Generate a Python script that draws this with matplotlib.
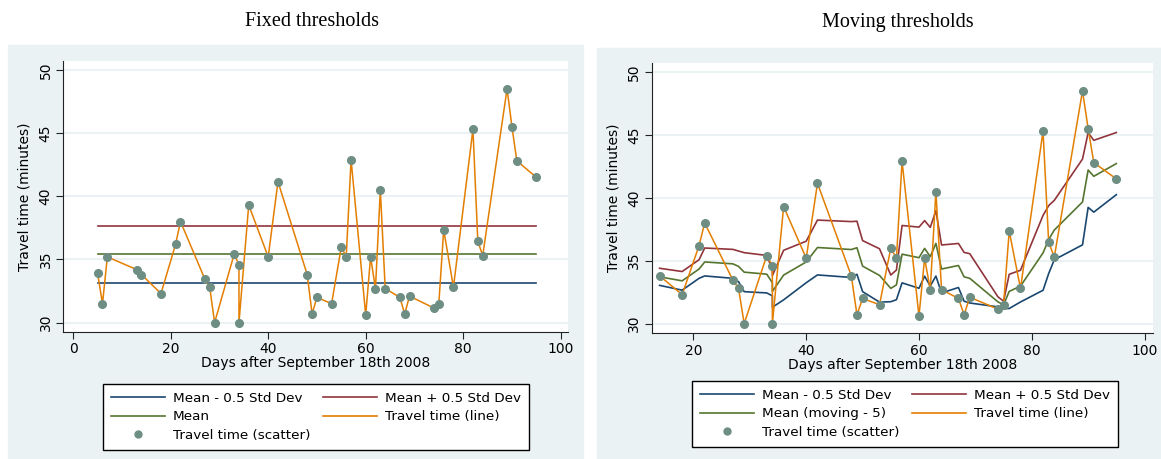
import numpy as np
import matplotlib.pyplot as plt
from matplotlib.patches import Rectangle
from matplotlib.lines import Line2D

plt.rcParams['font.family'] = 'DejaVu Sans'

# days after Sept 18th 2008 and travel time (minutes)
days = [5, 6, 7, 13, 14, 18, 21, 22, 27, 28, 29, 33, 34, 34, 36, 40, 42, 48, 49, 50,
        53, 55, 56, 57, 60, 61, 62, 63, 64, 67, 68, 69, 74, 75, 76, 78, 82, 83, 84,
        89, 90, 91, 95]
travel = [33.9, 31.5, 35.2, 34.2, 33.8, 32.3, 36.2, 38.0, 33.45, 32.8, 30.0, 35.4,
          34.6, 30.0, 39.3, 35.2, 41.15, 33.8, 30.7, 32.0, 31.5, 36.0, 35.2, 42.9,
          30.6, 35.2, 32.7, 40.5, 32.7, 32.0, 30.7, 32.1, 31.15, 31.5, 37.35, 32.8,
          45.3, 36.45, 35.3, 48.5, 45.5, 42.8, 41.5]

# fixed thresholds
fixed_lower = 33.1
fixed_mean = 35.4
fixed_upper = 37.65

# moving thresholds (5 point window), from day 14 onwards
mov_days = days[4:]
mov_mean = [33.72, 33.40, 34.34, 34.90, 34.75, 34.55, 34.09, 33.93, 33.25, 32.56,
            33.86, 34.90, 36.05, 35.89, 36.03, 34.57, 33.83, 32.80, 33.08, 35.52,
            35.24, 35.98, 35.32, 36.38, 34.34, 34.62, 33.72, 33.60, 31.73, 31.49,
            32.56, 32.98, 35.62, 36.68, 37.44, 39.67, 42.21, 41.71, 42.72]
mov_lower = [33.04, 32.66, 33.60, 33.79, 33.60, 33.33, 32.54, 32.44, 32.21, 31.30,
             31.89, 33.25, 33.87, 33.67, 33.92, 32.54, 31.71, 31.74, 31.90, 33.24,
             32.81, 33.77, 32.99, 33.78, 32.44, 32.87, 31.78, 31.64, 31.33, 31.20,
             31.20, 31.72, 32.65, 33.98, 35.08, 36.26, 39.24, 38.86, 40.25]
mov_upper = [34.40, 34.14, 35.08, 36.01, 35.90, 35.77, 35.64, 35.42, 34.29, 33.82,
             35.83, 36.55, 38.23, 38.11, 38.14, 36.60, 35.95, 33.86, 34.26, 37.80,
             37.67, 38.19, 37.65, 38.98, 36.25, 36.37, 35.66, 35.56, 32.13, 31.78,
             33.92, 34.24, 38.60, 39.38, 39.80, 43.08, 45.18, 44.57, 45.19]

c_lower = '#1a476f'
c_upper = '#90353b'
c_mean = '#55752f'
c_line = '#e37e00'
c_dot = '#6e8e84'
bg = '#eaf2f3'

W, H = 1161, 459
fig = plt.figure(figsize=(W/100, H/100), dpi=100)

def px(x0, y0, x1, y1):
    # pixel box -> figure fraction [l, b, w, h]
    return [x0/W, 1 - y1/H, (x1-x0)/W, (y1-y0)/H]

# grey graph regions
for (x0, y0, x1, y1) in [(8, 45, 583, 459), (597, 48, 1161, 459)]:
    fig.patches.append(Rectangle((x0/W, 1-y1/H), (x1-x0)/W, (y1-y0)/H,
                                 transform=fig.transFigure, color=bg, zorder=-5))

def style(ax, xlim, ylim, xticks):
    ax.set_zorder(2)
    ax.set_xlim(*xlim)
    ax.set_ylim(*ylim)
    ax.set_xticks(xticks)
    ax.set_yticks([30, 35, 40, 45, 50])
    for t in ax.get_yticklabels():
        t.set_rotation(90)
        t.set_va('center')
    ax.tick_params(labelsize=10, length=5, width=0.8, color='#222222', pad=2.5)
    ax.spines['top'].set_visible(False)
    ax.spines['right'].set_visible(False)
    ax.spines['left'].set_color('#222222')
    ax.spines['bottom'].set_color('#222222')
    ax.grid(axis='y', color='#eaf2f3', lw=1.5)
    ax.set_axisbelow(True)
    ax.set_xlabel('Days after September 18th 2008', fontsize=10, labelpad=0)
    ax.set_ylabel('Travel time (minutes)', fontsize=10, labelpad=5)

# ---- fixed thresholds
ax1 = fig.add_axes(px(63, 61, 568, 332))
x_rng = [days[0], days[-1]]
ax1.plot(x_rng, [fixed_lower]*2, color=c_lower, lw=1.2)
ax1.plot(x_rng, [fixed_upper]*2, color=c_upper, lw=1.2)
ax1.plot(x_rng, [fixed_mean]*2, color=c_mean, lw=1.2)
ax1.plot(days, travel, color=c_line, lw=1.1)
ax1.plot(days, travel, 'o', color=c_dot, ms=5.5, mec=c_dot)
style(ax1, (-2.1, 101.5), (29.26, 50.7), [0, 20, 40, 60, 80, 100])

# ---- moving thresholds
ax2 = fig.add_axes(px(651.7, 62.7, 1153, 333.3))
ax2.plot(mov_days, mov_lower, color=c_lower, lw=1.2)
ax2.plot(mov_days, mov_upper, color=c_upper, lw=1.2)
ax2.plot(mov_days, mov_mean, color=c_mean, lw=1.2)
ax2.plot(mov_days, travel[4:], color=c_line, lw=1.1)
ax2.plot(mov_days, travel[4:], 'o', color=c_dot, ms=5.5, mec=c_dot)
style(ax2, (12.6, 101.5), (29.23, 50.74), [20, 40, 60, 80, 100])

fig.text(312/W, 1-21/H, 'Fixed thresholds', family='Liberation Serif',
         fontsize=14.5, ha='center', va='center')
fig.text(898/W, 1-22/H, 'Moving thresholds', family='Liberation Serif',
         fontsize=14.5, ha='center', va='center')

def legend(ax, mean_label, box):
    h = [Line2D([], [], color=c_lower, lw=1.2),
         Line2D([], [], color=c_mean, lw=1.2),
         Line2D([], [], ls='none', marker='o', color=c_dot, ms=5),
         Line2D([], [], color=c_upper, lw=1.2),
         Line2D([], [], color=c_line, lw=1.2)]
    labels = ['Mean - 0.5 Std Dev', mean_label, 'Travel time (scatter)',
              'Mean + 0.5 Std Dev', 'Travel time (line)']
    x0, y0, x1, y1 = box
    leg = fig.legend(h, labels, ncol=2, loc='upper left',
                     bbox_to_anchor=(x0/W, 1-y0/H), borderaxespad=0, fontsize=9.7,
                     handlelength=4.0, handletextpad=0.6, columnspacing=0.9,
                     labelspacing=0.4, borderpad=0.6, fancybox=False,
                     edgecolor='black', framealpha=1)
    leg.get_frame().set_linewidth(1.0)

legend(ax1, 'Mean', (103, 384, 528, 452))
legend(ax2, 'Mean (moving - 5)', (692, 381, 1113, 449))

fig.savefig('out.png', dpi=100)
